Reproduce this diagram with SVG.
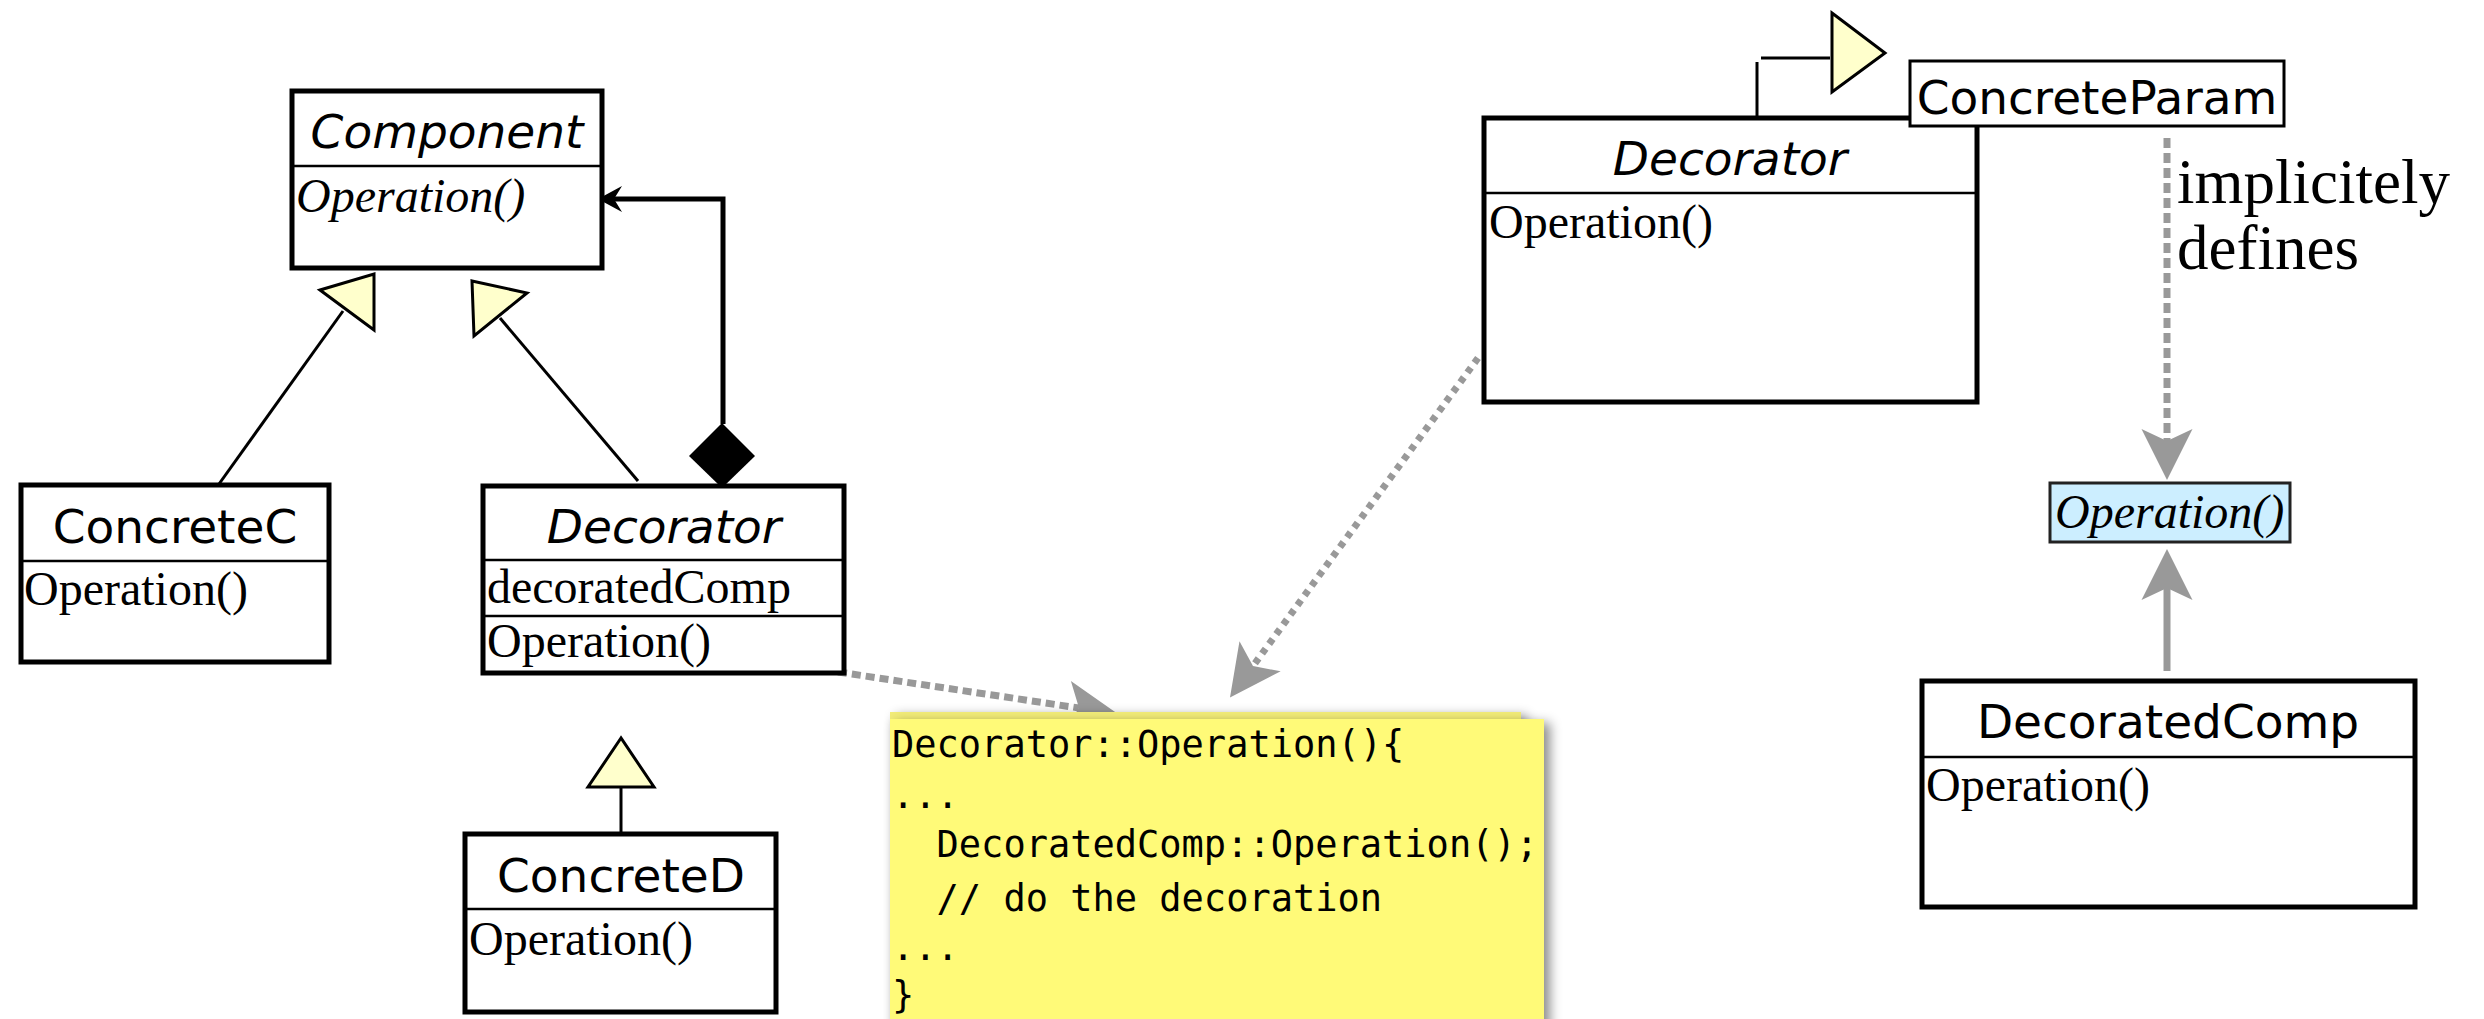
<svg xmlns="http://www.w3.org/2000/svg" width="2484" height="1019" viewBox="0 0 2484 1019">
<style>
.box{fill:#fff;stroke:#000;stroke-width:5}
.div{stroke:#000;stroke-width:2.5}
.thin{fill:#fff;stroke:#000;stroke-width:3}
.cls{font-family:"DejaVu Sans",sans-serif;font-size:47px;fill:#000;text-anchor:middle}
.abs{font-style:italic}
.op{font-family:"Liberation Serif","Times New Roman",serif;font-size:48px;fill:#000}
.opi{font-style:italic}
.lbl{font-family:"Liberation Serif","Times New Roman",serif;font-size:63px;fill:#000}
.code{font-family:"DejaVu Sans Mono",monospace;font-size:37px;fill:#000;white-space:pre}
.gen{fill:#ffffcc;stroke:#000;stroke-width:3;stroke-linejoin:miter}
.ln{fill:none;stroke:#000;stroke-width:3}
.gray{fill:none;stroke:#999;stroke-width:7}
</style>
<defs>
<marker id="ga" markerUnits="userSpaceOnUse" markerWidth="60" markerHeight="60" viewBox="-10 -20 40 40" refX="0" refY="0" orient="auto">
<path d="M26,0 L-8,-17 L0,0 L-8,17 Z" fill="#999"/>
</marker>
<filter id="sh" x="-5%" y="-5%" width="115%" height="115%">
<feDropShadow dx="6" dy="4" stdDeviation="6" flood-color="#000" flood-opacity="0.45"/>
</filter>
</defs>

<g id="connectors">
<line class="ln" x1="219" y1="484" x2="343" y2="311"/>
<polygon class="gen" points="320,290 374,274 374,330"/>
<line class="ln" x1="638" y1="481" x2="500" y2="318"/>
<polygon class="gen" points="472,281 527,293 474,336"/>
<line class="ln" x1="621" y1="787" x2="621" y2="834"/>
<polygon class="gen" points="621,738 588,787 654,787"/>
<polyline fill="none" stroke="#000" stroke-width="5" points="723,424 723,199 612,199"/>
<polygon fill="#000" points="598,199 622,186 614,199 622,212"/>
<polygon fill="#000" points="722,423 755,456 722,488 689,456"/>
<line class="ln" x1="1757" y1="62" x2="1757" y2="118"/>
<line class="ln" x1="1761" y1="58" x2="1830" y2="58"/>
<polygon class="gen" points="1832,13 1885,53 1832,92"/>
<line class="gray" stroke-dasharray="9 5" x1="838" y1="672" x2="1079" y2="708" marker-end="url(#ga)"/>
<line class="gray" stroke-dasharray="6 6" x1="1478" y1="358" x2="1253" y2="666" marker-end="url(#ga)"/>
<line class="gray" stroke-width="6" stroke-dasharray="10 5" x1="2167" y1="138" x2="2167" y2="441" marker-end="url(#ga)"/>
<line class="gray" x1="2167" y1="671" x2="2167" y2="588" marker-end="url(#ga)"/>
</g>

<g id="component">
<rect class="box" x="292" y="91" width="310" height="177"/>
<line class="div" x1="292" y1="166" x2="602" y2="166"/>
<text class="cls abs" x="447" y="148">Component</text>
<text class="op opi" x="296" y="212">Operation()</text>
</g>

<g id="concretec">
<rect class="box" x="21" y="485" width="308" height="177"/>
<line class="div" x1="21" y1="561" x2="329" y2="561"/>
<text class="cls" x="175" y="543">ConcreteC</text>
<text class="op" x="24" y="605">Operation()</text>
</g>

<g id="decorator-left">
<rect class="box" x="483" y="486" width="361" height="187"/>
<line class="div" x1="483" y1="560" x2="844" y2="560"/>
<line class="div" x1="483" y1="616" x2="844" y2="616"/>
<text class="cls abs" x="664" y="543">Decorator</text>
<text class="op" x="487" y="603">decoratedComp</text>
<text class="op" x="487" y="657">Operation()</text>
</g>

<g id="concreted">
<rect class="box" x="465" y="834" width="311" height="178"/>
<line class="div" x1="465" y1="909" x2="776" y2="909"/>
<text class="cls" x="621" y="892">ConcreteD</text>
<text class="op" x="469" y="955">Operation()</text>
</g>

<g id="note">
<rect x="890" y="712" width="631" height="320" fill="#f2ec78" filter="url(#sh)"/>
<rect x="890" y="719" width="654" height="320" fill="#fffa78" filter="url(#sh)"/>
<text class="code" x="892" y="757">Decorator::Operation(){</text>
<text class="code" x="892" y="808">...</text>
<text class="code" x="892" y="857">  DecoratedComp::Operation();</text>
<text class="code" x="892" y="911">  // do the decoration</text>
<text class="code" x="892" y="960">...</text>
<text class="code" x="892" y="1008">}</text>
</g>

<g id="decorator-right">
<rect class="box" x="1484" y="118" width="493" height="284"/>
<line class="div" x1="1484" y1="193" x2="1977" y2="193"/>
<text class="cls abs" x="1730" y="175">Decorator</text>
<text class="op" x="1489" y="238">Operation()</text>
</g>

<g id="concreteparam">
<rect class="thin" x="1910" y="61" width="374" height="65"/>
<text class="cls" x="2097" y="114">ConcreteParam</text>
</g>

<g id="label-implicitely">
<text class="lbl" x="2177" y="203">implicitely</text>
<text class="lbl" x="2177" y="269">defines</text>
</g>

<g id="operation-sig">
<rect x="2050" y="483" width="240" height="59" fill="#cceeff" stroke="#222" stroke-width="3"/>
<text class="op opi" x="2055" y="528">Operation()</text>
</g>

<g id="decoratedcomp">
<rect class="box" x="1922" y="681" width="493" height="226"/>
<line class="div" x1="1922" y1="757" x2="2415" y2="757"/>
<text class="cls" x="2168" y="738">DecoratedComp</text>
<text class="op" x="1926" y="801">Operation()</text>
</g>
</svg>
